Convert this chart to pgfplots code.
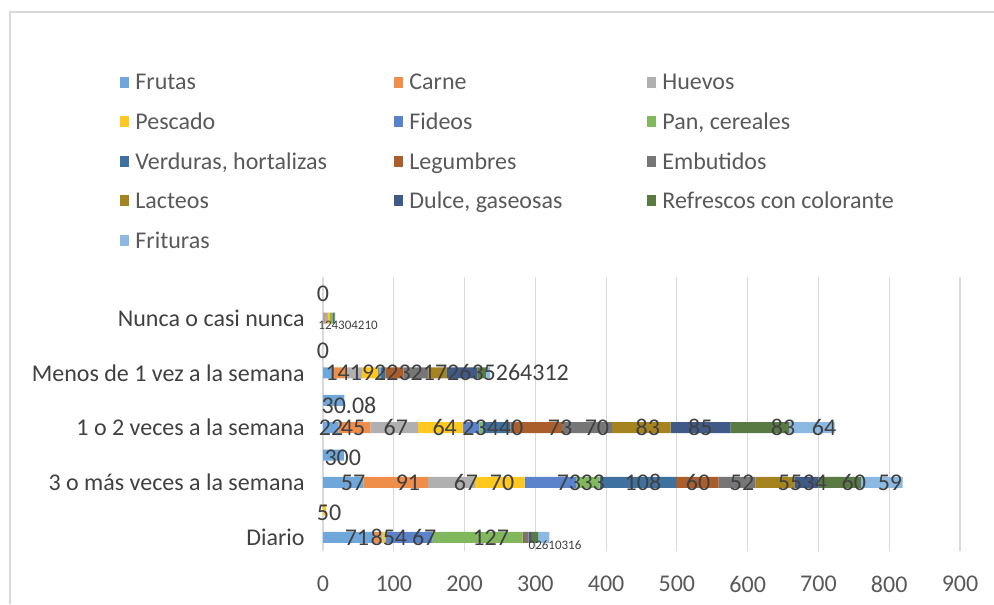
\documentclass[border=0pt]{standalone}
\usepackage{pgfplots}
\pgfplotsset{compat=1.18}
\usepackage{pgfplotstable}
\usepackage{fontspec}
\setmainfont{Carlito}

\definecolor{cfru}{HTML}{5B9BD5}
\definecolor{ccar}{HTML}{ED7D31}
\definecolor{chue}{HTML}{A5A5A5}
\definecolor{cpes}{HTML}{FFC000}
\definecolor{cfid}{HTML}{4472C4}
\definecolor{cpan}{HTML}{70AD47}
\definecolor{cver}{HTML}{255E91}
\definecolor{cleg}{HTML}{9E480E}
\definecolor{cemb}{HTML}{636363}
\definecolor{clac}{HTML}{997300}
\definecolor{cdul}{HTML}{264478}
\definecolor{cref}{HTML}{43682B}
\definecolor{cfrt}{HTML}{7CAFDD}
\definecolor{gridgray}{HTML}{D9D9D9}
\definecolor{labgray}{HTML}{595959}
\definecolor{datgray}{HTML}{404040}

% filas 1..10 (las pares sin nombre en el eje)
\pgfplotstableread{
y  fru   car hue pes fid pan ver leg emb lac dul ref frt
1  71    8   5   4   67  127 0   2   6   1   3   10  16
2  0     0   0   4   0   0   0   0   0   0   0   0   0
3  57    91  67  70  73  33  108 60  52  55  34  60  59
4  30    0   0   0   0   0   0   0   0   0   0   0   0
5  22    45  67  64  23  4   40  73  70  83  85  83  64
6  30.08 0   0   0   0   0   0   0   0   0   0   0   0
7  14    19  22  23  2   1   7   26  35  26  43  12  6
8  0     0   0   0   0   0   0   0   0   0   0   0   0
9  1     2   4   3   0   4   2   1   0   0   0   0   0
10 0     0   0   0   0   0   0   0   0   0   0   0   0
}\datos

\newcommand{\ca}[1]{\makebox[129.5pt][l]{\strut #1}}
\newcommand{\cb}[1]{\makebox[119pt][l]{\strut #1}}
\newcommand{\cc}[1]{\makebox[125pt][l]{\strut #1}}
\newcommand{\lbl}{\fontsize{12}{14}\selectfont}
\newcommand{\sml}{\fontsize{6.5}{7.5}\selectfont}

\pgfplotsset{marco/.style={
  at={(161.5pt,26.5pt)}, anchor=south west,
  scale only axis, width=318.5pt, height=137pt,
  xmin=0, xmax=900, ymin=0.5, ymax=10.5, clip=false}}

\begin{document}
\begin{tikzpicture}
\useasboundingbox (0,0) rectangle (497pt,302pt);
\draw[gridgray, line width=0.6pt] (5pt,0) -- (5pt,296pt) -- (497pt,296pt);
\begin{axis}[
  marco,
  xbar stacked, bar width=5.5pt,
  xtick={0,100,...,900},
  ytick={1,3,5,7,9},
  yticklabels={Diario,3 o más veces a la semana,1 o 2 veces a la semana,Menos de 1 vez a la semana,Nunca o casi nunca},
  xmajorgrids, grid style={gridgray, line width=0.6pt},
  axis line style={draw=none},
  major tick length=0pt,
  /pgf/number format/assume math mode=true,
  tick label style={font=\lbl, text=labgray, inner sep=0pt},
  yticklabel style={anchor=east, xshift=-9pt, text=datgray},
  xticklabel style={anchor=north, yshift=-12.5pt},
  legend columns=3,
  legend image code/.code={\fill[#1] (0pt,-3pt) rectangle (4.5pt,2.5pt);},
  legend style={draw=none, fill=none, inner sep=0pt,
    at={(axis description cs:-0.3187,1.756)}, anchor=north west,
    nodes={inner sep=0pt, font=\lbl, text=labgray},
    /tikz/row sep=8.5pt,
    /tikz/every odd column/.append style={column sep=3pt}},
]
\addplot[fill=cfru!88!white, draw=none] table[x=fru, y=y] {\datos}; \addlegendentry{\ca{Frutas}}
\addplot[fill=ccar!88!white, draw=none] table[x=car, y=y] {\datos}; \addlegendentry{\cb{Carne}}
\addplot[fill=chue!88!white, draw=none] table[x=hue, y=y] {\datos}; \addlegendentry{\cc{Huevos}}
\addplot[fill=cpes!88!white, draw=none] table[x=pes, y=y] {\datos}; \addlegendentry{\ca{Pescado}}
\addplot[fill=cfid!88!white, draw=none] table[x=fid, y=y] {\datos}; \addlegendentry{\cb{Fideos}}
\addplot[fill=cpan!88!white, draw=none] table[x=pan, y=y] {\datos}; \addlegendentry{\cc{Pan, cereales}}
\addplot[fill=cver!88!white, draw=none] table[x=ver, y=y] {\datos}; \addlegendentry{\ca{Verduras, hortalizas}}
\addplot[fill=cleg!88!white, draw=none] table[x=leg, y=y] {\datos}; \addlegendentry{\cb{Legumbres}}
\addplot[fill=cemb!88!white, draw=none] table[x=emb, y=y] {\datos}; \addlegendentry{\cc{Embutidos}}
\addplot[fill=clac!88!white, draw=none] table[x=lac, y=y] {\datos}; \addlegendentry{\ca{Lacteos}}
\addplot[fill=cdul!88!white, draw=none] table[x=dul, y=y] {\datos}; \addlegendentry{\cb{Dulce, gaseosas}}
\addplot[fill=cref!88!white, draw=none] table[x=ref, y=y] {\datos}; \addlegendentry{\cc{Refrescos con colorante}}
\addplot[fill=cfrt!88!white, draw=none] table[x=frt, y=y] {\datos}; \addlegendentry{\ca{Frituras}}
\end{axis}

% etiquetas de datos, encima de las barras
\begin{axis}[marco, hide axis]
\foreach \xx/\lab in {42.4/57,120/91,202/67,253/70,347.5/73,381/33,452/108,530/60,592/52,660/55,695/34,750/60,801/59}{
  \edef\tmp{\noexpand\node[font=\noexpand\lbl, text=datgray, inner sep=0pt] at (axis cs:\xx,3) {\lab};}\tmp}
\foreach \xx/\lab in {11.3/22,42.4/45,103/67,172/64,240/23440,335/73,387/70,459/83,533/85,650/83,708/64}{
  \edef\tmp{\noexpand\node[font=\noexpand\lbl, text=datgray, inner sep=0pt] at (axis cs:\xx,5) {\lab};}\tmp}
\foreach \xx/\lab in {48/71,93/854,143/67,237/127}{
  \edef\tmp{\noexpand\node[font=\noexpand\lbl, text=datgray, inner sep=0pt] at (axis cs:\xx,1) {\lab};}\tmp}
\node[font=\lbl, text=datgray, inner sep=0pt, anchor=west] at (axis cs:3,7) {14192232172635264312};
\node[font=\lbl, text=datgray, inner sep=0pt] at (axis cs:0,9.9) {0};
\node[font=\lbl, text=datgray, inner sep=0pt] at (axis cs:0,7.82) {0};
\node[font=\lbl, text=datgray, inner sep=0pt] at (axis cs:36.7,5.82) {30.08};
\node[font=\lbl, text=datgray, inner sep=0pt] at (axis cs:28,3.9) {300};
\node[font=\lbl, text=datgray, inner sep=0pt] at (axis cs:8.5,1.88) {50};
\node[font=\sml, text=datgray, inner sep=0pt, anchor=west] at (axis cs:290,0.71) {02610316};
\node[font=\sml, text=datgray, inner sep=0pt, anchor=west] at (axis cs:-7,8.74) {124304210};
\end{axis}
\end{tikzpicture}
\end{document}
